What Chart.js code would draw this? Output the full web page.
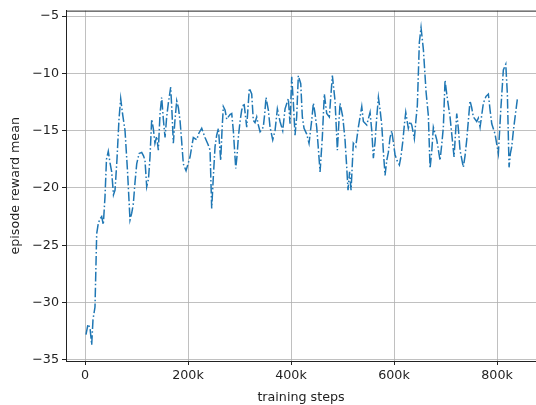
<!DOCTYPE html>
<html>
<head>
<meta charset="utf-8">
<script src="https://cdn.jsdelivr.net/npm/chart.js@4/dist/chart.umd.min.js"></script>
<style>
  html, body { margin: 0; padding: 0; background: #fff; }
  canvas { display: block; }
</style>
</head>
<body>
<canvas id="chart" width="536" height="405"></canvas>
<script>
// training steps (thousands) and mean episode reward at each eval
const stepsK = [
  1.9, 5.8, 9.7, 13, 15.5, 19.4, 22.7, 25.8, 29.1, 32.4,
  35.5, 38.8, 41.7, 45.2, 48.5, 51.8, 55.3, 58.3, 62.1, 66,
  69.3, 72.8, 77.7, 82.5, 87.4, 90.7, 93.8, 97.1, 100.4, 104.9,
  110.1, 113.6, 116.5, 119.8, 123.3, 126.2, 129.5, 132.6, 135.8, 139.2,
  142.4, 145.7, 148.9, 152.1, 155.4, 158.6, 161.8, 166.4, 169, 171.5,
  174.8, 178.1, 181.3, 184.5, 187.8, 190.9, 196.2, 200, 203.9, 210.3,
  216.9, 221.3, 226.6, 233, 238.9, 242.8, 246, 249.2, 252.5, 255.7,
  259, 263.5, 266, 268.6, 271.9, 275.2, 278.3, 281.6, 284.9, 288,
  292.7, 295.2, 297.7, 301, 304.3, 308.8, 314, 316.5, 319.1, 323.7,
  326.8, 330.1, 333.4, 336.5, 339.9, 346.2, 349, 351.5, 356, 359.3,
  364.5, 369, 373.5, 378.7, 383.9, 388.4, 394.8, 398.1, 401.4, 404.5,
  407.8, 411, 414.2, 418.9, 422, 425.3, 430.5, 435, 440.2, 443.4,
  446.6, 449.9, 453, 456.4, 460.8, 464.7, 469.3, 474.4, 477.3, 480.3,
  485.5, 490, 492.7, 495.2, 500.5, 504.9, 508.2, 510.7, 513.7, 516.6,
  521, 525.7, 530.8, 537.4, 540.5, 547.1, 553.5, 556.8, 559.9, 563.2,
  566.5, 569.7, 573, 576.2, 579.3, 582.6, 585.9, 589, 592.3, 595.6,
  598.7, 602, 605.8, 610.4, 613.7, 616.9, 620.1, 622.8, 627.8, 631.1,
  634.4, 639.5, 642.7, 645.3, 649.2, 652.5, 657, 659.7, 662.2, 666.7,
  670, 673.3, 676.4, 683, 689.4, 692.7, 695.8, 699.1, 702.4, 705.5,
  708.8, 712.1, 716.6, 721.8, 724.9, 728.2, 734.6, 737.9, 741.2, 747.6,
  750.9, 754, 760.6, 763.7, 767.1, 773.5, 778.7, 783.2, 786.5, 789.8,
  796.2, 802.6, 807.3, 812.3, 817, 820.1, 823.4, 825.9, 828.6, 831.8,
  835.1, 839.6
];
const rewardMean = [
  -32.8, -31.9, -32.2, -33.7, -31.5, -30.4, -24.0, -23.1, -22.7, -22.5,
  -23.2, -20.8, -17.5, -16.8, -17.8, -18.6, -20.6, -20.2, -17.5, -14.0,
  -12.2, -13.5, -15.0, -18.5, -22.8, -22.2, -21.4, -19.5, -17.9, -17.0,
  -16.9, -17.2, -17.6, -19.9, -19.2, -17.3, -14.0, -14.8, -16.1, -15.5,
  -16.7, -13.5, -12.1, -14.0, -15.6, -13.8, -12.6, -11.2, -13.5, -16.1,
  -14.0, -12.4, -13.0, -14.1, -16.0, -17.9, -18.5, -17.9, -17.3, -15.6,
  -15.8, -15.2, -14.8, -15.6, -16.2, -16.7, -21.8, -19.0, -16.4, -15.4,
  -14.8, -17.6, -15.0, -12.9, -13.2, -14.0, -13.8, -13.6, -13.5, -15.0,
  -18.3, -17.2, -15.6, -14.2, -13.2, -12.6, -14.7, -13.0, -11.3, -11.8,
  -14.1, -14.3, -13.8, -14.5, -15.1, -14.7, -13.5, -12.1, -13.2, -14.7,
  -15.8, -15.0, -13.1, -14.2, -15.0, -13.1, -12.2, -14.4, -10.3, -12.5,
  -15.4, -13.8, -10.2, -10.9, -13.8, -14.8, -15.3, -16.1, -14.1, -12.6,
  -13.5, -14.7, -16.5, -18.6, -15.6, -11.8, -13.5, -13.8, -12.0, -10.2,
  -12.4, -16.7, -14.5, -12.6, -13.8, -15.8, -18.2, -20.2, -18.6, -20.2,
  -16.1, -16.4, -14.7, -12.9, -14.2, -14.5, -13.4, -15.0, -17.4, -16.0,
  -13.8, -12.1, -13.2, -14.5, -16.8, -18.9, -17.6, -16.9, -15.6, -15.0,
  -16.0, -17.1, -17.6, -18.0, -17.2, -16.0, -14.5, -13.4, -14.8, -14.2,
  -14.5, -15.7, -14.0, -12.8, -7.3, -6.0, -7.9, -9.8, -11.6, -13.7,
  -18.3, -16.8, -14.7, -15.8, -17.6, -16.2, -14.7, -10.6, -11.8, -12.8,
  -13.8, -15.3, -17.3, -13.5, -14.8, -16.7, -18.2, -17.2, -15.8, -12.4,
  -13.0, -13.8, -14.2, -13.9, -14.7, -12.6, -12.0, -11.8, -13.2, -14.4,
  -15.3, -17.0, -13.2, -9.7, -9.2, -11.8, -18.2, -17.0, -16.4, -15.0,
  -13.8, -12.2
];
const xTicks = [0, 200000, 400000, 600000, 800000];
const yTicks = [-35, -30, -25, -20, -15, -10, -5];

const font = { family: "'DejaVu Sans', sans-serif", size: 12.7 };

// frame line along the top of the plot area
const topSpine = {
  id: "topSpine",
  afterDatasetsDraw(chart) {
    const { ctx, chartArea } = chart;
    ctx.save();
    ctx.strokeStyle = "#222";
    ctx.lineWidth = 1;
    ctx.beginPath();
    ctx.moveTo(chartArea.left, chartArea.top + 0.5);
    ctx.lineTo(chartArea.right, chartArea.top + 0.5);
    ctx.stroke();
    ctx.restore();
  },
};

const data = {
  datasets: [
    {
      data: stepsK.map((s, i) => ({ x: s * 1000, y: rewardMean[i] })),
      borderColor: "#1f77b4",
      borderWidth: 1.5,
      borderDash: [9.6, 2.4, 1.5, 2.4],
      pointRadius: 0,
      tension: 0,
      fill: false,
    },
  ],
};

const options = {
  responsive: false,
  animation: false,
  layout: { padding: { top: 10, right: 0, left: 0, bottom: 0 } },
  plugins: {
    legend: { display: false },
    tooltip: { enabled: false },
  },
  scales: {
    x: {
      type: "linear",
      min: -36900,
      max: 875700,
      afterBuildTicks: (scale) => {
        scale.ticks = xTicks.map((v) => ({ value: v }));
      },
      afterFit: (scale) => {
        scale.height = 44;
      },
      grid: {
        color: "#b0b0b0",
        lineWidth: 0.8,
        tickColor: "#222",
        tickLength: 4,
        tickWidth: 1,
      },
      border: { color: "#222", width: 1 },
      ticks: {
        color: "#222",
        font,
        padding: 3,
        maxRotation: 0,
        callback: (v) => (v === 0 ? "0" : v / 1000 + "k"),
      },
      title: {
        display: true,
        text: "training steps",
        color: "#222",
        font,
        padding: { top: 2, bottom: 0 },
      },
    },
    y: {
      min: -35.11,
      max: -4.52,
      afterBuildTicks: (scale) => {
        scale.ticks = yTicks.map((v) => ({ value: v }));
      },
      afterFit: (scale) => {
        scale.width = 66;
      },
      grid: {
        color: "#b0b0b0",
        lineWidth: 0.8,
        tickColor: "#222",
        tickLength: 4,
        tickWidth: 1,
      },
      border: { color: "#222", width: 1 },
      ticks: {
        color: "#222",
        font,
        padding: 3,
        callback: (v) => String(v).replace("-", "\u2212"),
      },
      title: {
        display: true,
        text: "episode reward mean",
        color: "#222",
        font,
        padding: { top: 8, bottom: 0 },
      },
    },
  },
};

new Chart(document.getElementById("chart").getContext("2d"), {
  type: "line",
  data,
  options,
  plugins: [topSpine],
});
</script>
</body>
</html>
